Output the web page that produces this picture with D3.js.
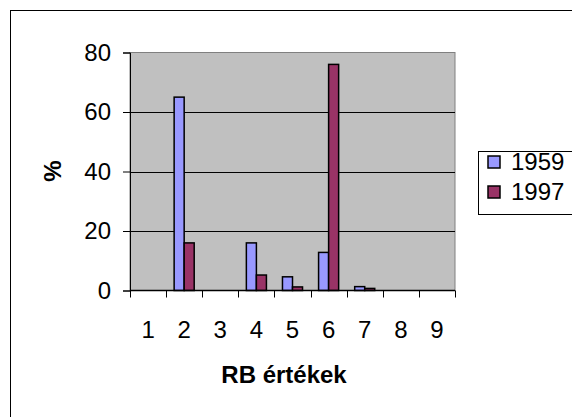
<!DOCTYPE html>
<html>
<head>
<meta charset="utf-8">
<script src="https://cdn.jsdelivr.net/npm/d3@7"></script>
<style>
  html, body { margin: 0; padding: 0; background: #fff; }
  svg { display: block; font-family: "Liberation Sans", Arial, sans-serif; }
</style>
</head>
<body>
<svg id="chart" width="572" height="417"></svg>
<script>
// RB values (categories) and share (%) per survey year
const categories = ["1", "2", "3", "4", "5", "6", "7", "8", "9"];
const seriesNames = ["1959", "1997"];
const values1959 = [0, 65, 0, 16, 4.6, 12.8, 1.3, 0, 0];
const values1997 = [0, 16, 0, 5.2, 1.2, 76, 0.7, 0, 0];
const yTicks = [0, 20, 40, 60, 80];
const colors = ["#9999ff", "#993366"];

const FS = 24;
const svg = d3.select("#chart");

// outer chart frame (runs off the right and bottom edges)
svg.append("rect")
  .attr("x", 10.5).attr("y", 10.5)
  .attr("width", 600).attr("height", 450)
  .attr("fill", "#fff").attr("stroke", "#000").attr("stroke-width", 1);

const plot = { left: 130, right: 455, top: 52.5, bottom: 290.5 };

const x = d3.scaleBand()
  .domain(categories)
  .range([plot.left, plot.right])
  .paddingInner(0).paddingOuter(0);

// two bars per group, 80% gap between groups
const groupW = x.bandwidth() / 1.8;
const xSub = d3.scaleBand()
  .domain(seriesNames)
  .range([0, groupW]);

const y = d3.scaleLinear()
  .domain([0, 80])
  .range([plot.bottom, plot.top]);

// plot area background
svg.append("rect")
  .attr("x", plot.left).attr("y", plot.top)
  .attr("width", plot.right - plot.left).attr("height", plot.bottom - plot.top)
  .attr("fill", "#c0c0c0").attr("stroke", "#808080").attr("stroke-width", 1);

// horizontal gridlines
svg.append("g")
  .selectAll("line")
  .data(yTicks.filter(t => t > 0 && t < 80))
  .join("line")
  .attr("x1", plot.left).attr("x2", plot.right)
  .attr("y1", d => Math.round(y(d)) + 0.5).attr("y2", d => Math.round(y(d)) + 0.5)
  .attr("stroke", "#000").attr("stroke-width", 1);

// bars
const rows = categories.map((c, i) => ({ cat: c, vals: [values1959[i], values1997[i]] }));
const groups = svg.append("g").selectAll("g")
  .data(rows)
  .join("g")
  .attr("transform", d => `translate(${x(d.cat) + (x.bandwidth() - groupW) / 2},0)`);

groups.selectAll("rect")
  .data(d => d.vals.map((v, j) => ({ name: seriesNames[j], v, j })))
  .join("rect")
  .filter(d => d.v > 0)
  .attr("x", d => xSub(d.name))
  .attr("width", xSub.bandwidth())
  .attr("y", d => y(d.v))
  .attr("height", d => y(0) - y(d.v))
  .attr("fill", d => colors[d.j])
  .attr("stroke", "#000").attr("stroke-width", 1.5);

// y axis
const yAxis = svg.append("g")
  .attr("transform", `translate(${plot.left},0)`)
  .call(d3.axisLeft(y).tickValues(yTicks).tickSize(7).tickPadding(12));
yAxis.select(".domain").attr("stroke", "#000");
yAxis.selectAll("text").attr("font-size", FS).attr("fill", "#000")
  .attr("font-family", "Liberation Sans, Arial, sans-serif");

// x axis with ticks on category boundaries
const xAxisG = svg.append("g")
  .attr("transform", `translate(0,${plot.bottom})`);
xAxisG.append("line")
  .attr("x1", plot.left).attr("x2", plot.right)
  .attr("stroke", "#000").attr("stroke-width", 1.5);
xAxisG.selectAll("line.tick")
  .data(categories.concat(["end"]))
  .join("line")
  .attr("class", "tick")
  .attr("x1", (d, i) => Math.round(plot.left + i * x.bandwidth()) + 0.5)
  .attr("x2", (d, i) => Math.round(plot.left + i * x.bandwidth()) + 0.5)
  .attr("y1", 0).attr("y2", 7)
  .attr("stroke", "#000");
xAxisG.selectAll("text")
  .data(categories)
  .join("text")
  .attr("x", d => x(d) + x.bandwidth() / 2)
  .attr("y", 47)
  .attr("text-anchor", "middle")
  .attr("font-size", FS)
  .text(d => d);

// axis titles
svg.append("text")
  .attr("x", 284).attr("y", 383)
  .attr("text-anchor", "middle")
  .attr("font-size", FS).attr("font-weight", "bold")
  .text("RB értékek");

svg.append("text")
  .attr("transform", "translate(61,171) rotate(-90)")
  .attr("text-anchor", "middle")
  .attr("font-size", FS).attr("font-weight", "bold")
  .text("%");

// legend
const legend = svg.append("g");
legend.append("rect")
  .attr("x", 478.5).attr("y", 151.5)
  .attr("width", 120).attr("height", 63)
  .attr("fill", "#fff").attr("stroke", "#000");
const items = legend.selectAll("g.item")
  .data(seriesNames)
  .join("g")
  .attr("class", "item")
  .attr("transform", (d, i) => `translate(488,${156 + i * 30})`);
items.append("rect")
  .attr("width", 12).attr("height", 12)
  .attr("fill", (d, i) => colors[i])
  .attr("stroke", "#000").attr("stroke-width", 1.5);
items.append("text")
  .attr("x", 23).attr("y", 14)
  .attr("font-size", FS)
  .text(d => d);
</script>
</body>
</html>
